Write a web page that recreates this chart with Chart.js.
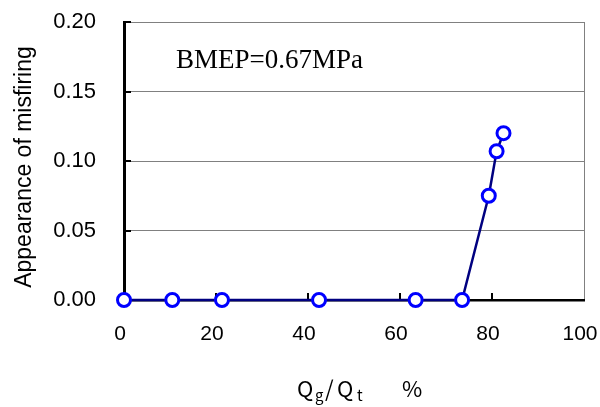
<!DOCTYPE html>
<html>
<head>
<meta charset="utf-8">
<script src="https://cdn.jsdelivr.net/npm/chart.js@4.4.1/dist/chart.umd.min.js"></script>
<style>
html, body { margin: 0; padding: 0; background: #fff; }
#wrap { width: 600px; height: 407px; }
</style>
</head>
<body>
<div id="wrap"><canvas id="misfireChart"></canvas></div>
<script>
// values
const gasRatio = [0, 10.5, 21.3, 42.4, 63.4, 73.5, 79.3, 81.0, 82.5];
const misfiring = [0, 0, 0, 0, 0, 0, 0.075, 0.107, 0.120];
const xTicks = [0, 20, 40, 60, 80, 100];
const yTicks = [0, 0.05, 0.10, 0.15, 0.20];
const note = 'BMEP=0.67MPa';
const yTitle = 'Appearance of misfiring';

// small tick marks pointing into the plot
const innerTicks = {
    id: 'innerTicks',
    beforeDatasetsDraw(chart) {
        const { ctx, chartArea, scales } = chart;
        ctx.save();
        ctx.strokeStyle = '#000';
        ctx.lineWidth = 2;
        ctx.beginPath();
        xTicks.forEach(v => {
            if (v === 0 || v === 100) return;
            const px = Math.round(scales.x.getPixelForValue(v));
            ctx.moveTo(px, chartArea.bottom);
            ctx.lineTo(px, chartArea.bottom - 7);
        });
        yTicks.forEach(v => {
            if (v === 0) return;
            const py = Math.round(scales.y.getPixelForValue(v));
            ctx.moveTo(chartArea.left, py);
            ctx.lineTo(chartArea.left + 7, py);
        });
        ctx.stroke();
        ctx.restore();
    }
};

// annotation, axis titles (x title has subscripts)
const labels = {
    id: 'labels',
    afterDraw(chart) {
        const ctx = chart.ctx;
        ctx.save();
        ctx.fillStyle = '#000';
        ctx.textBaseline = 'alphabetic';
        ctx.textAlign = 'left';
        ctx.font = '27px "Liberation Serif"';
        ctx.fillText(note, 176, 68);

        const big = '22px "Noto Sans CJK JP"';
        const small = '15px "Noto Sans CJK JP"';
        const base = 397;
        const parts = [['Q', big, 297, 0], ['g', small, 315, 4], ['/', big, 325, 0], ['Q', big, 337, 0], ['t', small, 357, 4], ['%', big, 402, 0]];
        parts.forEach(p => {
            ctx.font = p[1];
            ctx.fillText(p[0], p[2], base + p[3]);
        });

        ctx.translate(25, 167);
        ctx.rotate(-Math.PI / 2);
        ctx.textAlign = 'center';
        ctx.textBaseline = 'middle';
        ctx.font = '23px "Liberation Sans"';
        ctx.fillText(yTitle, 0, 0);
        ctx.restore();
    }
};

const ctx = document.getElementById('misfireChart').getContext('2d');
const myChart = new Chart(ctx, {
    type: 'line',
    data: {
        datasets: [{
            data: gasRatio.map((x, i) => ({ x: x, y: misfiring[i] })),
            borderColor: '#000080',
            borderWidth: 2.5,
            pointRadius: 6.5,
            pointBorderWidth: 3,
            pointBorderColor: '#0000ff',
            pointBackgroundColor: '#ffffff',
            tension: 0,
            clip: false
        }]
    },
    options: {
        responsive: true,
        maintainAspectRatio: false,
        animation: false,
        layout: { padding: { top: 22, right: 16, left: 0, bottom: 0 } },
        plugins: {
            legend: { display: false },
            tooltip: { enabled: false }
        },
        scales: {
            x: {
                type: 'linear',
                min: 0,
                max: 100,
                afterFit: s => { s.height = 107; s.paddingLeft = 0; s.paddingRight = 0; },
                afterBuildTicks: s => { s.ticks = xTicks.map(v => ({ value: v })); },
                ticks: {
                    padding: 22,
                    labelOffset: -4,
                    color: '#000',
                    font: { family: 'Liberation Sans', size: 21 }
                },
                grid: {
                    drawTicks: false,
                    color: c => c.tick && c.tick.value === 100 ? '#808080' : 'rgba(0,0,0,0)',
                    lineWidth: 1
                },
                border: { color: '#000', width: 2.5 }
            },
            y: {
                min: 0,
                max: 0.2,
                afterFit: s => { s.width = 124; s.paddingTop = 0; s.paddingBottom = 0; },
                afterBuildTicks: s => { s.ticks = yTicks.map(v => ({ value: v })); },
                ticks: {
                    padding: 28,
                    color: '#000',
                    font: { family: 'Liberation Sans', size: 22 },
                    callback: v => v.toFixed(2)
                },
                grid: {
                    drawTicks: false,
                    color: c => c.tick && c.tick.value === 0 ? 'rgba(0,0,0,0)' : '#808080',
                    lineWidth: 1
                },
                border: { color: '#000', width: 3 }
            }
        }
    },
    plugins: [innerTicks, labels]
});
</script>
</body>
</html>
